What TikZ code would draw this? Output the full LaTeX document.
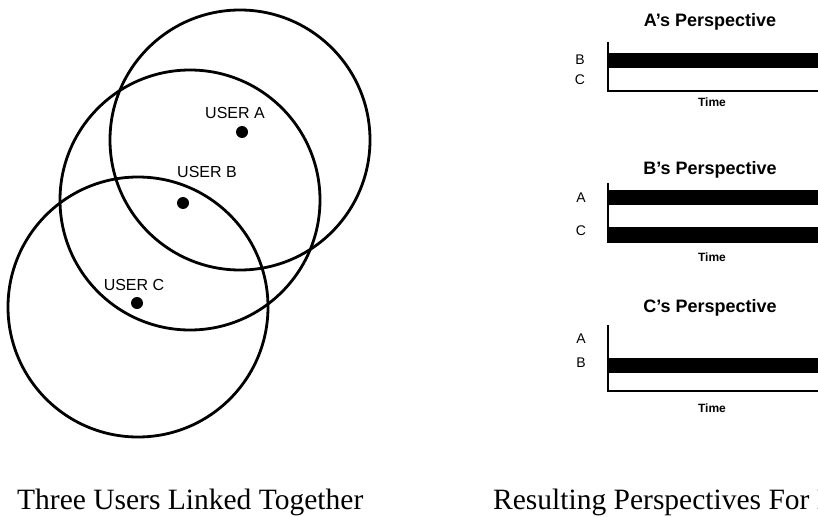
\documentclass[tikz,border=0pt]{standalone}
\usepackage{fontspec}
\setmainfont{Liberation Serif}
\newfontfamily\hvfont{Liberation Sans}
\tikzset{
  ring/.style={line width=2.8pt},
  userdot/.style={circle,fill=black,inner sep=0pt,minimum size=12pt},
  userlabel/.style={font=\hvfont\fontsize{16}{18}\selectfont,inner sep=0pt},
  ptitle/.style={font=\hvfont\bfseries\fontsize{18}{20}\selectfont,inner sep=0pt},
  axlabel/.style={font=\hvfont\fontsize{14}{16}\selectfont,inner sep=0pt},
  timelabel/.style={font=\hvfont\bfseries\fontsize{12}{14}\selectfont,inner sep=0pt},
  axisline/.style={line width=2pt},
  caption/.style={font=\fontsize{29.5}{32}\selectfont,anchor=base west,inner sep=0pt}
}
\begin{document}
\begin{tikzpicture}[x=1pt,y=-1pt]
  \useasboundingbox (0,0) rectangle (818,516);
  \clip (0,0) rectangle (818,516);
  % 三つの円 (A, B, C)
  \draw[ring] (240,140) circle[radius=130pt];
  \draw[ring] (190,200) circle[radius=130pt];
  \draw[ring] (138,307) circle[radius=130pt];
  \node[userdot] (userA) at (242,132) {};
  \node[userdot] (userB) at (183,203) {};
  \node[userdot] (userC) at (137,303) {};
  \node[userlabel] (labA) at (235,113) {USER A};
  \node[userlabel] (labB) at (207,172) {USER B};
  \node[userlabel] (labC) at (134,285) {USER C};
  % Aから見た図
  \node[ptitle] (titA) at (710,22) {A’s Perspective};
  \fill (607,53) rectangle (830,68);
  \draw[axisline] (608,42) -- (608,91) -- (830,91);
  \node[axlabel] (aB) at (580,60) {B};
  \node[axlabel] (aC) at (580,80) {C};
  \node[timelabel] (timeA) at (712,102) {Time};
  % Bから見た図
  \node[ptitle] (titB) at (710,170) {B’s Perspective};
  \fill (607,190) rectangle (830,205);
  \fill (607,227) rectangle (830,243);
  \draw[axisline] (608,183) -- (608,242) -- (830,242);
  \node[axlabel] (bA) at (581,198) {A};
  \node[axlabel] (bC) at (581,231) {C};
  \node[timelabel] (timeB) at (712,257) {Time};
  % Cから見た図
  \node[ptitle] (titC) at (710,308) {C’s Perspective};
  \fill (607,358) rectangle (830,373);
  \draw[axisline] (608,325) -- (608,391) -- (830,391);
  \node[axlabel] (cA) at (581,339) {A};
  \node[axlabel] (cB) at (581,363) {B};
  \node[timelabel] (timeC) at (712,408) {Time};
  % キャプション
  \node[caption] (capL) at (17,509) {Three Users Linked Together};
  \node[caption] (capR) at (493,509) {Resulting Perspectives For Each User};
\end{tikzpicture}
\end{document}
